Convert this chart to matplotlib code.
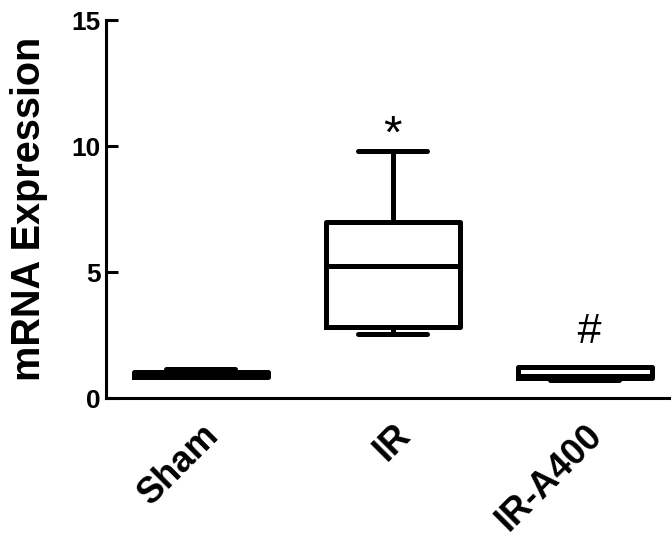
import matplotlib
matplotlib.use("Agg")
import matplotlib.pyplot as plt
import matplotlib.transforms as mtransforms

categories = ["Sham", "IR", "IR-A400"]
whislo = [0.84, 2.54, 0.71]
q1 = [0.84, 2.82, 0.79]
med = [0.95, 5.25, 0.89]
q3 = [1.03, 6.98, 1.23]
whishi = [1.17, 9.80, 1.23]
y_ticks = [0, 5, 10, 15]

plt.rcParams['font.family'] = ['Liberation Sans', 'DejaVu Sans']

fig = plt.figure(figsize=(6.71, 5.33), dpi=100)
ax = fig.add_axes([106/671, (533-398)/533, 1 - 106/671, (398-20)/533])

stats = []
for i, c in enumerate(categories):
    stats.append(dict(label=c, whislo=whislo[i], q1=q1[i], med=med[i],
                      q3=q3[i], whishi=whishi[i], fliers=[]))

lw = 3.6
pos = [1, 2, 3]
ax.bxp(stats, positions=pos, widths=0.70, capwidths=0.36, showfliers=False,
       boxprops=dict(color='black', linewidth=lw, solid_joinstyle='round'),
       medianprops=dict(color='black', linewidth=lw),
       whiskerprops=dict(color='black', linewidth=lw),
       capprops=dict(color='black', linewidth=lw, solid_capstyle='round'))

ax.text(2, 10.4, "*", ha='center', va='center', fontsize=34, color='black')
ax.text(3.02, 2.63, "#", ha='center', va='center', fontsize=31, color='black',
        fontstyle='italic')

ax.set_xlim(0.505, 3.45)
ax.set_ylim(0, 15)
ax.set_yticks(y_ticks)
ax.set_yticklabels([str(t) for t in y_ticks], fontsize=19, fontweight='bold')
ax.set_xticks(pos)
ax.set_xticklabels(categories, fontsize=26, fontweight='bold', rotation=45,
                   ha='right', rotation_mode='anchor')
offset = mtransforms.ScaledTranslation(-5/100, 0, fig.dpi_scale_trans)
for lbl in ax.get_xticklabels():
    lbl.set_transform(lbl.get_transform() + offset)
ax.tick_params(axis='x', length=0, pad=14)
ax.tick_params(axis='y', length=8.5, width=2.2, pad=4, direction='in')
for s in ['top', 'right']:
    ax.spines[s].set_visible(False)
for s in ['left', 'bottom']:
    ax.spines[s].set_linewidth(2.2)
ax.set_ylabel("mRNA Expression", fontsize=28.5, fontweight='bold', labelpad=17)

fig.savefig("out.png", dpi=100)
